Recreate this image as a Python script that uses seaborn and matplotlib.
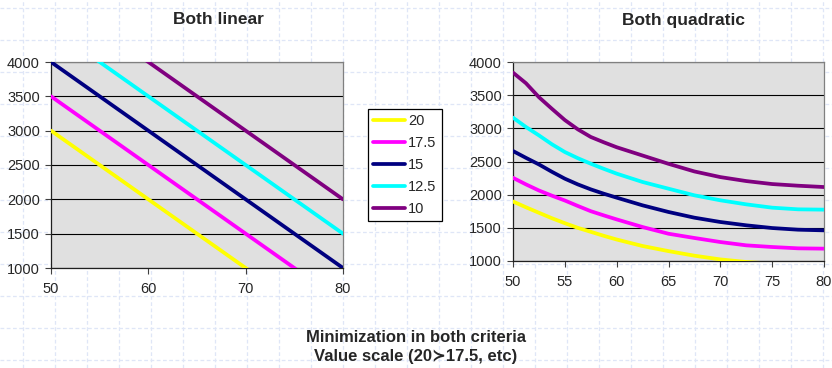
import numpy as np
import pandas as pd
import matplotlib
matplotlib.use("Agg")
import matplotlib.pyplot as plt
import seaborn as sns

# Series labels (value scale) and colours
labels = ["20", "17.5", "15", "12.5", "10"]
colors = ["#FFFF00", "#FF00FF", "#000080", "#00FFFF", "#800080"]

# Left panel: both criteria linear
lin_x = [50, 55, 60, 65, 70, 75, 80]
lin_20 = [3000, 2500, 2000, 1500, 1000, 500, 0]
lin_17_5 = [3500, 3000, 2500, 2000, 1500, 1000, 500]
lin_15 = [4000, 3500, 3000, 2500, 2000, 1500, 1000]
lin_12_5 = [4500, 4000, 3500, 3000, 2500, 2000, 1500]
lin_10 = [5000, 4500, 4000, 3500, 3000, 2500, 2000]

# Right panel: both criteria quadratic
quad_x = [50, 51.25, 52.5, 53.75, 55, 56.25, 57.5, 58.75, 60,
          62.5, 65, 67.5, 70, 72.5, 75, 77.5, 80]
quad_20 = [1897, 1810, 1727, 1645, 1570, 1500, 1440, 1380, 1324,
           1226, 1149, 1080, 1024, 985, 960, 945, 940]
quad_17_5 = [2254, 2155, 2063, 1985, 1912, 1830, 1751, 1688, 1627,
             1512, 1411, 1347, 1286, 1236, 1211, 1191, 1186]
quad_15 = [2658, 2555, 2456, 2345, 2241, 2155, 2080, 2015, 1955,
           1839, 1739, 1653, 1588, 1538, 1497, 1472, 1462]
quad_12_5 = [3161, 3020, 2894, 2760, 2643, 2550, 2467, 2390, 2317,
             2191, 2090, 1990, 1915, 1854, 1804, 1779, 1774]
quad_10 = [3840, 3680, 3470, 3295, 3125, 2985, 2870, 2790, 2715,
           2590, 2465, 2350, 2265, 2205, 2160, 2135, 2115]

y_ticks = [1000, 1500, 2000, 2500, 3000, 3500, 4000]


def long_frame(x, series):
    rows = []
    for lab, vals in zip(labels, series):
        for xv, yv in zip(x, vals):
            rows.append({"x": xv, "y": yv, "series": lab})
    return pd.DataFrame(rows)


lin_df = long_frame(lin_x, [lin_20, lin_17_5, lin_15, lin_12_5, lin_10])
quad_df = long_frame(quad_x, [quad_20, quad_17_5, quad_15, quad_12_5, quad_10])

sns.set_theme(style="white")
plt.rcParams["font.family"] = ["Liberation Sans", "DejaVu Sans"]

W, H = 832, 368
fig = plt.figure(figsize=(W / 100, H / 100), dpi=100)
fig.patch.set_facecolor("white")

# Faint dashed graph-paper background
bg = fig.add_axes([0, 0, 1, 1], zorder=-10)
bg.set_xlim(0, W)
bg.set_ylim(H, 0)
bg.set_xticks(np.arange(23, W, 32))
bg.set_yticks(np.arange(8, H, 32))
bg.grid(True, color="#dfe6f7", linestyle=(0, (3, 2)), linewidth=0.9)
bg.tick_params(length=0, labelbottom=False, labelleft=False)
for s in bg.spines.values():
    s.set_visible(False)
bg.set_facecolor("white")


def px_axes(x0, x1, ytop, ybot):
    return fig.add_axes([x0 / W, (H - ybot) / H, (x1 - x0) / W, (ybot - ytop) / H])


ax1 = px_axes(51, 343, 62, 268)
ax2 = px_axes(513, 824, 62, 261)

palette = dict(zip(labels, colors))
for ax, df, xt in [(ax1, lin_df, [50, 60, 70, 80]),
                   (ax2, quad_df, [50, 55, 60, 65, 70, 75, 80])]:
    sns.lineplot(data=df, x="x", y="y", hue="series", hue_order=labels,
                 palette=palette, linewidth=2.7, ax=ax, legend=(ax is ax1),
                 zorder=3)
    ax.set_facecolor("#e0e0e0")
    ax.set_xlim(50, 80)
    ax.set_ylim(1000, 4000)
    ax.set_xticks(xt)
    ax.set_yticks(y_ticks)
    ax.set_xlabel("")
    ax.set_ylabel("")
    ax.yaxis.grid(True, color="black", linewidth=0.8, zorder=1)
    ax.xaxis.grid(False)
    ax.set_axisbelow(True)
    ax.tick_params(axis="x", direction="out", length=4, width=0.8,
                   color="#404040", pad=6, labelsize=10.5, bottom=True)
    ax.tick_params(axis="y", direction="out", length=4, width=0.8,
                   color="#404040", pad=4, labelsize=10.5, left=True)
    for side in ["top", "right"]:
        ax.spines[side].set_color("#808080")
        ax.spines[side].set_linewidth(0.9)
    for side in ["left", "bottom"]:
        ax.spines[side].set_color("#202020")
        ax.spines[side].set_linewidth(0.9)

handles, leg_labels = ax1.get_legend_handles_labels()
ax1.get_legend().remove()
leg = fig.legend(handles, leg_labels, loc="upper left",
                 bbox_to_anchor=(368 / W, 1 - 109 / H), frameon=True,
                 fancybox=False, edgecolor="black", framealpha=1,
                 fontsize=10.5, handlelength=2.2, handletextpad=0.2,
                 labelspacing=0.55, borderpad=0.35, borderaxespad=0)
leg.get_frame().set_linewidth(0.9)
for line in leg.get_lines():
    line.set_linewidth(2.7)

fig.text(218 / W, 1 - 20 / H, "Both linear", ha="center", va="center",
         fontsize=12.5, fontweight="bold")
fig.text(684 / W, 1 - 20 / H, "Both quadratic", ha="center", va="center",
         fontsize=12.5, fontweight="bold")
fig.text(416 / W, 1 - 338 / H, "Minimization in both criteria",
         ha="center", va="center", fontsize=12, fontweight="bold")
fig.text(416 / W, 1 - 357 / H, "Value scale (20\u227b17.5, etc)",
         ha="center", va="center", fontsize=12, fontweight="bold",
         family=["Liberation Sans", "DejaVu Sans"])

fig.savefig("out.png", dpi=100)
